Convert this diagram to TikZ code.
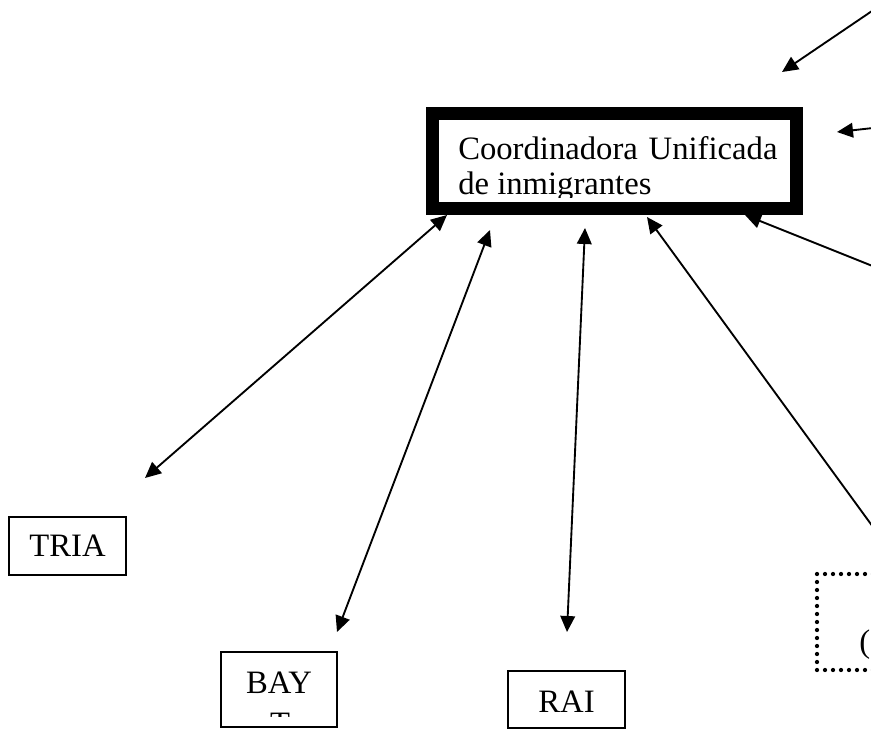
\documentclass[tikz,border=0pt]{standalone}
\usepackage{fontspec}
\setmainfont{Liberation Serif}
\usetikzlibrary{arrows.meta}
\begin{document}
\begin{tikzpicture}[x=0.75pt,y=-0.75pt,
  thinbox/.style={draw, line width=1.4pt, inner sep=0pt},
  lbl/.style={inner sep=0pt, anchor=base, font=\fontsize{24.5}{29}\selectfont},
  conn/.style={line width=1.4pt, -{Triangle[length=12pt,width=11pt]}},
  dconn/.style={line width=1.4pt, {Triangle[length=12pt,width=11pt]}-{Triangle[length=12pt,width=11pt]}},
  dotbox/.style={draw, line width=3.2pt, line cap=round, dash pattern=on 0pt off 6pt, inner sep=0pt}]
\clip (0,0) rectangle (871,729);
% main box
\node[draw, line width=9.75pt, minimum width=273pt, minimum height=71.6pt, inner sep=0pt] (cui) at (614.5,161.25) {};
\begin{scope}
\clip (440,120) rectangle (790,197);
\node[lbl, anchor=base west] (cuit1) at (458,159) {Coordinadora\hspace{2pt} Unificada};
\node[lbl, anchor=base west] (cuit2) at (458,194) {de inmigrantes};
\end{scope}
% TRIA
\node[thinbox, minimum width=87.75pt, minimum height=43.5pt] (tria) at (67.5,546) {};
\node[lbl] (triat) at (67.5,556) {TRIA};
% BAYT
\node[thinbox, minimum width=87pt, minimum height=56.25pt] (bayt) at (279,689.5) {};
\node[lbl] (baytt) at (279,693) {BAY};
\begin{scope}
\clip (222,653) rectangle (336,716);
\node[lbl] (baytt2) at (280,734) {T};
\end{scope}
% RAI
\node[thinbox, minimum width=87.75pt, minimum height=42.75pt] (rai) at (566.5,699.5) {};
\node[lbl] (rait) at (566.5,712) {RAI};
% dotted box (cut by frame)
\node[dotbox, minimum width=150pt, minimum height=72pt] (dot) at (917,622) {};
\node[lbl, anchor=base west] (dott) at (859,652) {(};
% connectors
\coordinate (a1s) at (900,-8);   \coordinate (a1e) at (782,72);
\coordinate (a2s) at (900,125);  \coordinate (a2e) at (837,132);
\coordinate (a3s) at (900,277);  \coordinate (a3e) at (745,215);
\coordinate (a4s) at (900,564);  \coordinate (a4e) at (647,217);
\coordinate (b1a) at (447,215);  \coordinate (b1b) at (145,478);
\coordinate (b2a) at (490,230);  \coordinate (b2b) at (337,632);
\coordinate (b3a) at (585,228);  \coordinate (b3b) at (567,632);
\draw[conn] (a1s) -- (a1e);
\draw[conn] (a2s) -- (a2e);
\draw[conn] (a3s) -- (a3e);
\draw[conn] (a4s) -- (a4e);
\draw[dconn] (b1a) -- (b1b);
\draw[dconn] (b2a) -- (b2b);
\draw[dconn] (b3a) -- (b3b);
\end{tikzpicture}
\end{document}
